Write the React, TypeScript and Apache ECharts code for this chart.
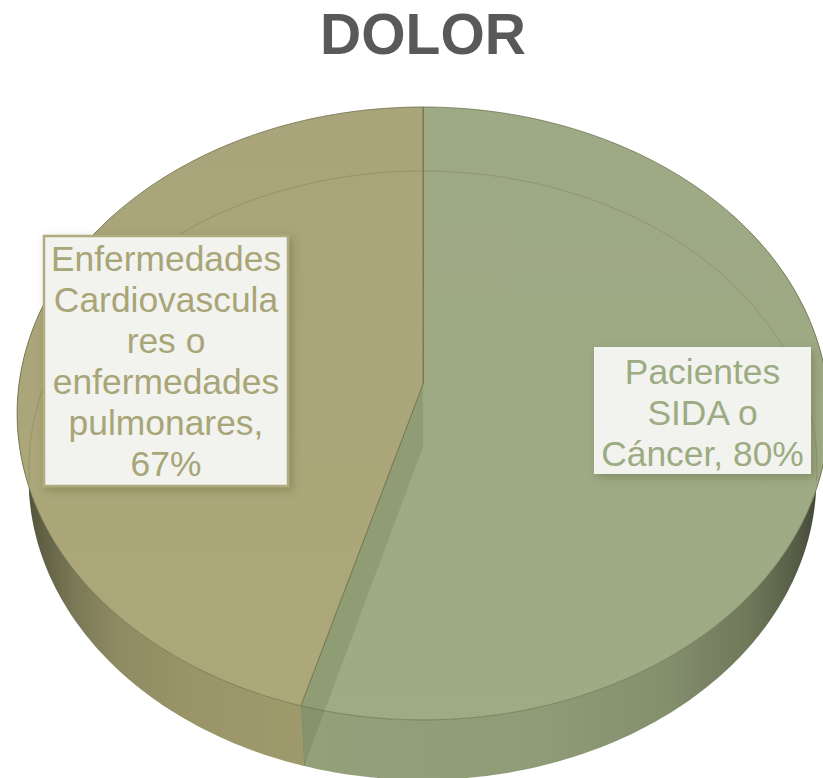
import React, { useEffect, useRef } from "react";
import * as echarts from "echarts";

const chartTitle = "DOLOR";
const sliceNames = ["Pacientes SIDA o Cáncer", "Enfermedades Cardiovasculares o enfermedades pulmonares"];
const sliceValues = [80, 67];
const sliceLabels = ["Pacientes\nSIDA o\nCáncer, 80%", "Enfermedades\nCardiovascula\nres o\nenfermedades\npulmonares,\n67%"];

const FONT = '"Liberation Sans", Arial, sans-serif';
const CX = 423, CY = 384, A = 404, B = 266.7, K = 0.0962;

const looks = [
  {
    top: ["#9ea985", "#9eab83"],
    text: "#9cab82",
    edge: "rgba(110,118,82,0.8)",
    wallStops: [
      [0, "#93a07a"], [0.45, "#909c78"], [0.7, "#838e6d"], [0.85, "#6f7859"], [0.94, "#555c45"], [1, "#3a3e2e"],
    ],
    wallX: [302, 829],
    box: [594, 347, 217, 127],
    border: "rgba(0,0,0,0)",
    textY: 413,
    ring: [-1, 1],
  },
  {
    top: ["#a9a47a", "#aca878"],
    text: "#a8a577",
    edge: "rgba(112,114,76,0.8)",
    wallStops: [
      [0, "#3b3b28"], [0.06, "#5a5a40"], [0.2, "#7a7856"], [0.35, "#8e8a62"], [0.6, "#9a9569"], [1, "#9f9a6c"],
    ],
    wallX: [17, 304],
    box: [44, 236, 244, 250],
    border: "#b0ac7e",
    textY: 361.5,
    ring: [-1, 0],
  },
];

function project(theta: number): [number, number] {
  const u = Math.sin(theta);
  const v = -Math.cos(theta);
  const w = 1 - K * v;
  return [CX + (A * u) / w, (B * v + CY) / w];
}

// The far face of the disc sits lower and reads slightly narrower.
function projectFloor(theta: number): [number, number] {
  const [x, y] = project(theta);
  return [422.5 + (x - 423) * (394 / 406), 478 + (y - 413) * (301 / 306)];
}

function arc(from: number, to: number, fn = project) {
  const n = Math.max(8, Math.ceil(Math.abs(to - from) * 70));
  const pts: [number, number][] = [];
  for (let i = 0; i <= n; i++) pts.push(fn(from + ((to - from) * i) / n));
  return pts;
}

function renderItem(params: any) {
  const i = params.dataIndex as number;
  const total = sliceValues.reduce((a, b) => a + b, 0);
  const before = sliceValues.slice(0, i).reduce((a, b) => a + b, 0);
  const start = (before / total) * Math.PI * 2;
  const end = ((before + sliceValues[i]) / total) * Math.PI * 2;
  const look = looks[i];
  const split = (sliceValues[0] / total) * Math.PI * 2;
  const [wallFrom, wallTo] = i === 0 ? [Math.PI * 0.3, end] : [start, Math.PI * 1.7];
  const topArc = arc(wallFrom, wallTo);
  const botArc = arc(wallFrom, wallTo, projectFloor).reverse();
  const toG = (stops: any[]) => stops.map(([offset, color]) => ({ offset, color }));

  const ringPts: [number, number][] = [];
  const [rs, re] = look.ring;
  for (let j = 0; j <= 80; j++) {
    const t = (Math.PI / 2) * (rs + ((re - rs) * j) / 80) * 1.03;
    ringPts.push([CX + 394 * Math.sin(t), 467 - 296 * Math.cos(t)]);
  }

  const children: any[] = [
    {
      type: "polygon",
      shape: { points: [...topArc, ...botArc] },
      style: {
        fill: new echarts.graphic.LinearGradient(look.wallX[0], 0, look.wallX[1], 0, toG(look.wallStops), true),
      },
    },
    {
      type: "polygon",
      shape: { points: [[CX, CY], ...arc(start, end)] },
      style: {
        fill: new echarts.graphic.LinearGradient(0, 107, 0, 720, toG([[0, look.top[0]], [1, look.top[1]]]), true),
        stroke: look.edge,
        lineWidth: 1,
      },
    },
    {
      type: "polyline",
      shape: { points: ringPts },
      style: { fill: "none", stroke: "rgba(90,95,60,0.25)", lineWidth: 1 },
    },
  ];

  if (i === 0) {
    const edgeTop = project(split);
    const edgeBot = projectFloor(split);
    children.push(
      {
        type: "polygon",
        shape: { points: [[CX, CY], [CX, CY + 63], edgeBot, edgeTop] },
        style: { fill: "rgba(70,90,50,0.17)" },
      },
      {
        type: "line",
        shape: { x1: edgeTop[0], y1: edgeTop[1], x2: edgeBot[0], y2: edgeBot[1] },
        style: { stroke: "rgba(110,120,80,0.7)", lineWidth: 1 },
      },
      {
        type: "line",
        shape: { x1: CX, y1: 107, x2: CX, y2: CY },
        style: { stroke: "#6f7550", lineWidth: 1 },
      }
    );
  }

  const [bx, by, bw, bh] = look.box;
  children.push(
    {
      type: "rect",
      shape: { x: bx, y: by, width: bw, height: bh },
      style: {
        fill: "#f2f3ef",
        stroke: look.border,
        lineWidth: 2.5,
        shadowBlur: 8,
        shadowOffsetX: 3,
        shadowOffsetY: 3,
        shadowColor: "rgba(60,60,30,0.3)",
      },
    },
    {
      type: "text",
      style: {
        text: sliceLabels[i],
        x: bx + bw / 2,
        y: look.textY,
        align: "center",
        verticalAlign: "middle",
        font: `35.4px ${FONT}`,
        lineHeight: 41,
        fill: look.text,
      },
    }
  );
  return { type: "group", children };
}

export default function App() {
  const ref = useRef<HTMLDivElement>(null);
  useEffect(() => {
    const chart = echarts.init(ref.current!, null, { renderer: "svg" });
    chart.setOption({
      animation: false,
      backgroundColor: "#ffffff",
      title: {
        text: chartTitle,
        left: 418,
        top: 0,
        textAlign: "center",
        textStyle: { fontFamily: FONT, fontWeight: "bold", fontSize: 57, color: "#595959" },
      },
      series: [
        {
          type: "custom",
          coordinateSystem: "none",
          silent: true,
          clip: false,
          data: sliceValues.map((value, i) => ({ name: sliceNames[i], value })),
          renderItem,
        },
      ],
    });
    return () => chart.dispose();
  }, []);
  return <div ref={ref} style={{ position: "fixed", left: 0, top: 0, width: 823, height: 778 }} />;
}
